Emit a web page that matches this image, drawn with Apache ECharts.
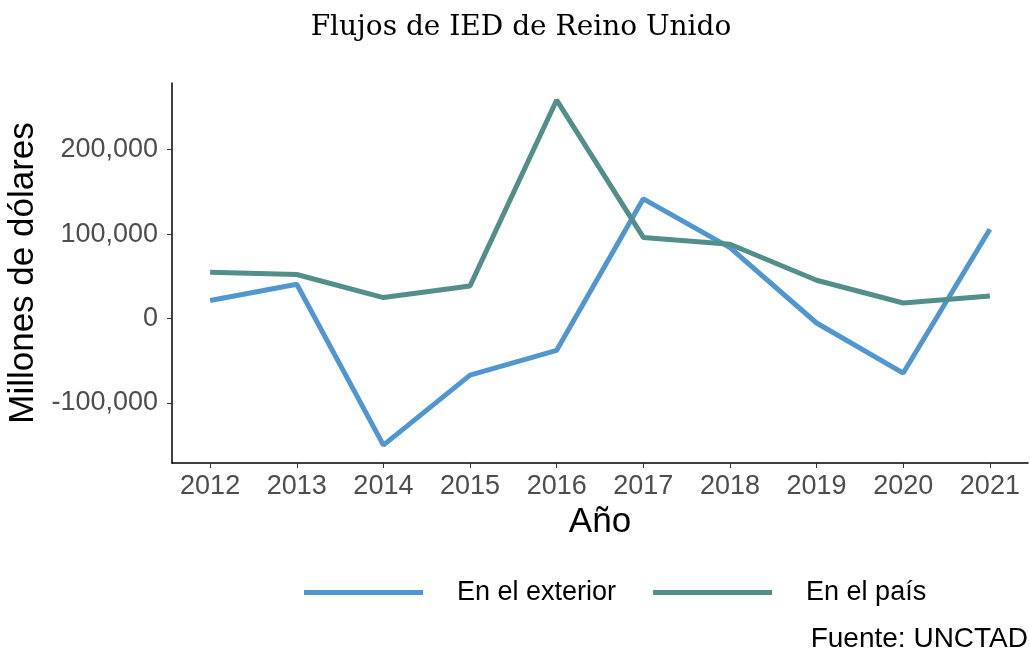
<!DOCTYPE html>
<html>
<head>
<meta charset="utf-8">
<script src="https://cdn.jsdelivr.net/npm/echarts@6/dist/echarts.min.js"></script>
<style>
html, body { margin: 0; padding: 0; background: #fff; }
#chart { width: 1029px; height: 655px; }
</style>
</head>
<body>
<div id="chart"></div>
<script>
// datos (millones de dolares)
var years = [2012, 2013, 2014, 2015, 2016, 2017, 2018, 2019, 2020, 2021];
var exterior = [21400, 40700, -149800, -66900, -37600, 141800, 84000, -5200, -64500, 105900];
var pais = [54900, 52200, 24900, 38700, 258800, 96100, 88100, 45400, 18500, 26800];
var yTicks = [-100000, 0, 100000, 200000];

var sans = 'Liberation Sans, Arial, sans-serif';

function pairs(vals) {
    return years.map(function (y, i) { return [y, vals[i]]; });
}

var chart = echarts.init(document.getElementById('chart'));
chart.setOption({
    animation: false,
    title: {
        text: 'Flujos de IED de Reino Unido',
        left: 516, top: 9, textAlign: 'center',
        textStyle: { fontFamily: 'DejaVu Serif, serif', fontWeight: 'normal', fontSize: 28, color: '#000' }
    },
    legend: {
        left: 299, top: 574,
        icon: 'rect', itemWidth: 119, itemHeight: 5, itemGap: 37,
        textStyle: { fontFamily: sans, fontSize: 27, color: '#000', padding: [0, 0, 0, 29] },
        data: ['En el exterior', 'En el país']
    },
    graphic: [{
        type: 'text', right: 1, top: 625,
        style: { text: 'Fuente: UNCTAD', font: '28px ' + sans, fill: '#000' }
    }],
    grid: { left: 172, right: 1, top: 83, bottom: 192, containLabel: false, outerBoundsMode: 'none' },
    xAxis: {
        type: 'value', min: 2011.56, max: 2021.44,
        name: 'Año', nameLocation: 'middle', nameGap: 42,
        nameTextStyle: { fontFamily: sans, fontSize: 35, color: '#000' },
        splitLine: { show: false },
        axisLine: { onZero: false, lineStyle: { color: '#000', width: 1.5 } },
        axisTick: { customValues: years, length: 5, lineStyle: { color: '#333' } },
        axisLabel: { customValues: years, margin: 10, fontFamily: sans, fontSize: 27, color: '#4d4d4d', formatter: function (v) { return String(v); } }
    },
    yAxis: {
        type: 'value', min: -171000, max: 279000,
        name: 'Millones de dólares', nameLocation: 'middle', nameGap: 130,
        nameTextStyle: { fontFamily: sans, fontSize: 35, color: '#000' },
        splitLine: { show: false },
        axisLine: { show: true, lineStyle: { color: '#000', width: 1.5 } },
        axisTick: { show: true, customValues: yTicks, length: 5, lineStyle: { color: '#333' } },
        axisLabel: {
            customValues: yTicks, margin: 14, fontFamily: sans, fontSize: 27, color: '#4d4d4d',
            formatter: function (v) { return v.toLocaleString('en-US'); }
        }
    },
    series: [
        { name: 'En el exterior', type: 'line', data: pairs(exterior), showSymbol: false,
          lineStyle: { width: 5, color: '#5097d1' }, itemStyle: { color: '#5097d1' } },
        { name: 'En el país', type: 'line', data: pairs(pais), showSymbol: false,
          lineStyle: { width: 5, color: '#528e8a' }, itemStyle: { color: '#528e8a' } }
    ]
});
</script>
</body>
</html>
